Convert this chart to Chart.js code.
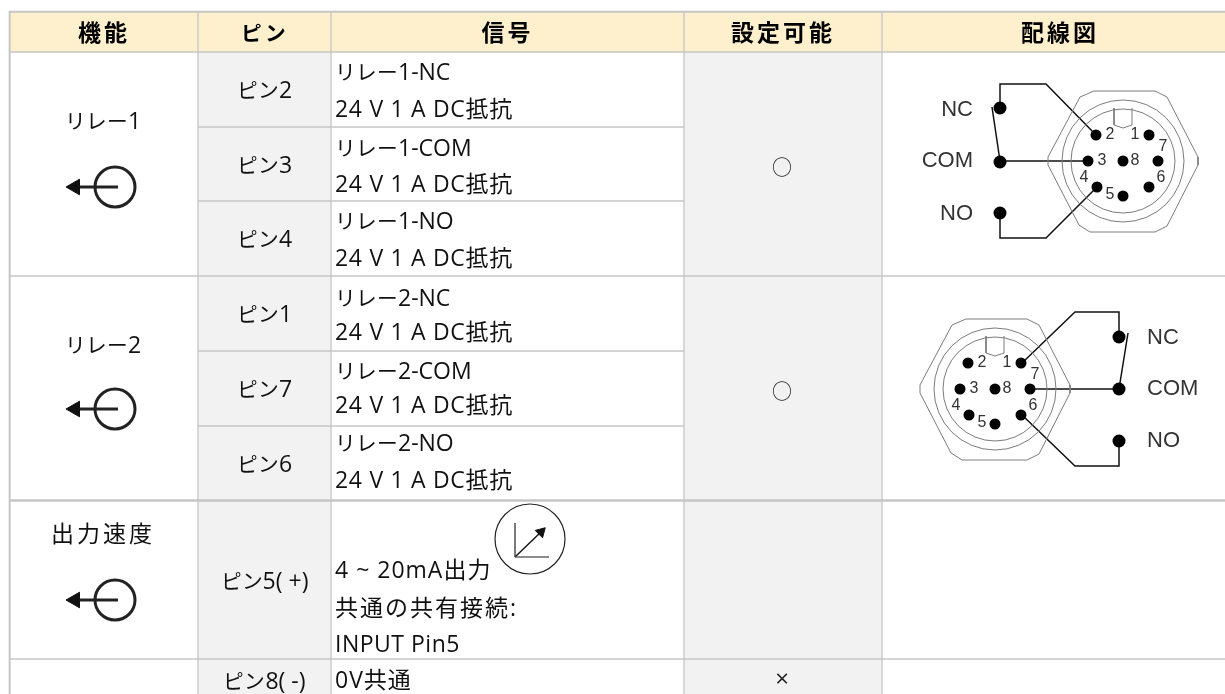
<!DOCTYPE html>
<html lang="ja">
<head>
    <meta charset="UTF-8">
    <title>ピン配置</title>
    <script src="https://cdn.jsdelivr.net/npm/chart.js"></script>
    <style>
        html, body { margin: 0; background: #fff; }
        canvas { display: block; }
        /* katakana in the original is set narrower than the kanji */
        @font-face {
            font-family: "KanaFit";
            src: local("Noto Sans CJK JP"), local("Noto Sans CJK JP Regular"), local("NotoSansCJKjp-Regular");
            font-weight: normal;
            size-adjust: 90%;
            unicode-range: U+30A0-30FF;
        }
        @font-face {
            font-family: "KanaFit";
            src: local("Noto Sans CJK JP Bold"), local("NotoSansCJKjp-Bold");
            font-weight: bold;
            size-adjust: 90%;
            unicode-range: U+30A0-30FF;
        }
    </style>
</head>
<body>
    <canvas id="myChart" width="1225" height="694"></canvas>

    <script>
        // table content
        const headers = ['機能', 'ピン', '信号', '設定可能', '配線図'];
        const functionNames = ['リレー1', 'リレー2', '出力速度'];
        const pinNames = ['ピン2', 'ピン3', 'ピン4', 'ピン1', 'ピン7', 'ピン6', 'ピン5( +)', 'ピン8( -)'];
        const signalLines = [
            'リレー1-NC', '24 V 1 A DC抵抗',
            'リレー1-COM', '24 V 1 A DC抵抗',
            'リレー1-NO', '24 V 1 A DC抵抗',
            'リレー2-NC', '24 V 1 A DC抵抗',
            'リレー2-COM', '24 V 1 A DC抵抗',
            'リレー2-NO', '24 V 1 A DC抵抗',
            '4 ~ 20mA出力', '共通の共有接続:', 'INPUT Pin5',
            '0V共通'
        ];
        const settable = ['○', '○', '', '×'];
        const terminalNames = ['NC', 'COM', 'NO'];
        const pinNumbers = ['2', '1', '7', '3', '8', '6', '4', '5'];

        // grid of the table in axis units, the last column runs past the page edge
        const columnEdges = [[11, 197], [199, 330], [332, 683], [685, 881], [883, 1237]];
        const headerSpan = [13, 51];
        const pinRows = [[53, 126], [128, 200], [202, 275], [277, 350], [352, 425], [427, 499], [502, 658], [660, 700]];
        const groupRows = [[53, 275], [277, 499], [502, 658], [660, 700]];
        const signalY = [73, 110, 149, 185, 222, 259, 299, 333, 372, 406, 444, 481, 571, 609, 645, 681];
        const signalSpacing = [0, 0.7, 0, 0.7, 0, 0.7, 0, 0.7, 0, 0.7, 0, 0.7, 1, 2, 0.5, 1];
        const functionY = [122, 346, 535];
        const iconY = [187, 409, 600];
        const settableY = [169, 393, 0, 680];

        // connector drawing, offsets from the centre of the plug
        const plugCentres = [[1123, 161], [995, 389]];
        const hexagon = [[-43, -64], [-29, -70], [32, -70], [44, -64], [75, -4], [75, 4], [44, 65], [32, 71], [-33, 71], [-44, 64], [-75, 4], [-75, -4], [-43, -64]];
        const keyNotch = [[-9, -53], [-9, -36], [0, -33], [9, -36], [9, -53]];
        const pinDots = [[-27, -26], [26, -26], [35, 0], [-35, 0], [0, 0], [26, 26], [-26, 26], [0, 35]];
        const pinNumberSpots = [[-13, -26], [12, -26], [40, -14], [-21, 0], [12, 0], [38, 17], [-39, 17], [-13, 34]];

        const wiresLeft = [
            [[1000, 108], [1000, 84], [1046, 84], [1096, 135]],
            [[992, 107], [1000, 161]],
            [[1000, 161], [1088, 161]],
            [[1000, 213], [1000, 238], [1046, 238], [1097, 187]]
        ];
        const wiresRight = [
            [[1119, 337], [1119, 312], [1075, 312], [1022, 363]],
            [[1128, 333], [1119, 389]],
            [[1030, 389], [1119, 389]],
            [[1119, 441], [1119, 466], [1075, 466], [1022, 415]]
        ];
        const terminalDots = [[1000, 108], [1000, 162], [1000, 213], [1119, 337], [1119, 389], [1119, 441]];
        const terminalLabels = [[973, 110], [973, 161], [973, 214], [1147, 338], [1147, 389], [1147, 441]];

        const gridColor = '#c6c6c6';
        const headerColor = '#fff0cd';
        const shadeColor = '#f2f2f2';
        const bodyFont = 'KanaFit, "Open Sans", "Noto Sans CJK JP", sans-serif';
        const headFont = 'KanaFit, "Noto Sans CJK JP", sans-serif';

        const toPoints = list => list.map(p => ({ x: p[0], y: p[1] }));
        const shifted = (list, c) => list.map(p => ({ x: p[0] + c[0], y: p[1] + c[1] }));

        function columnBars(col, rows, fill) {
            const edges = columnEdges[col];
            const all = [headerSpan].concat(rows);
            return {
                type: 'bar',
                order: 10,
                grouped: false,
                barThickness: edges[1] - edges[0],
                backgroundColor: all.map((r, i) => i === 0 ? headerColor : fill),
                data: all.map(r => ({ x: (edges[0] + edges[1]) / 2, y: r }))
            };
        }

        function polyline(points, color, width) {
            return {
                type: 'line', order: 2, data: points, borderColor: color, borderWidth: width,
                pointRadius: 0, fill: false, tension: 0, clip: false
            };
        }

        function dots(points, radius, color, fill, width, style, rotation) {
            return {
                type: 'scatter', order: 1, data: points, showLine: false, clip: false,
                pointRadius: radius, pointBorderColor: color, pointBackgroundColor: fill,
                pointBorderWidth: width, pointStyle: style || 'circle', pointRotation: rotation || 0
            };
        }

        const datasets = [
            // gray bar behind everything leaves the cell borders visible
            { type: 'bar', order: 11, grouped: false, barThickness: 1240, backgroundColor: gridColor, data: [{ x: 629, y: [11, 700] }] },
            columnBars(0, groupRows, '#ffffff'),
            columnBars(1, pinRows, shadeColor),
            columnBars(2, pinRows, '#ffffff'),
            columnBars(3, groupRows, shadeColor),
            columnBars(4, groupRows, '#ffffff')
        ];

        // output icons
        iconY.forEach(y => {
            datasets.push(polyline([{ x: 72, y: y }, { x: 118, y: y }], '#222', 3));
            datasets.push(dots([{ x: 115, y: y }], 20, '#222', 'rgba(0,0,0,0)', 3));
            datasets.push(dots([{ x: 75, y: y }], 9, '#111', '#111', 1, 'triangle', -90));
        });

        // analog output icon
        datasets.push(dots([{ x: 530, y: 539 }], 35, '#222', 'rgba(0,0,0,0)', 1.2));
        datasets.push(polyline([{ x: 515, y: 523 }, { x: 515, y: 557 }], '#222', 1.2));
        datasets.push(polyline([{ x: 515, y: 557 }, { x: 549, y: 557 }], '#666', 1.6));
        datasets.push(polyline([{ x: 515, y: 557 }, { x: 542, y: 531 }], '#111', 1.4));
        datasets.push(dots([{ x: 541, y: 532 }], 6, '#111', '#111', 1, 'triangle', 45));

        // plugs
        plugCentres.forEach(c => {
            datasets.push(polyline(shifted(hexagon, c), '#7c7c7c', 1));
            datasets.push(polyline(shifted(keyNotch, c), '#7c7c7c', 1));
            datasets.push(dots([{ x: c[0], y: c[1] }], 61, '#7c7c7c', 'rgba(0,0,0,0)', 1));
            datasets.push(dots([{ x: c[0], y: c[1] }], 52, '#7c7c7c', 'rgba(0,0,0,0)', 1));
            datasets.push(dots(shifted(pinDots, c), 5.5, '#000', '#000', 0));
        });
        wiresLeft.concat(wiresRight).forEach(w => datasets.push(polyline(toPoints(w), '#111', 1.5)));
        datasets.push(dots(toPoints(terminalDots), 6.5, '#000', '#000', 0));

        function textItems() {
            const items = [];
            const add = (text, x, y, font, align, spacing, color) =>
                items.push({ text, x, y, font, align, spacing: spacing || 0, color: color || '#111' });

            headers.forEach((h, i) => {
                const mid = (columnEdges[i][0] + columnEdges[i][1]) / 2;
                add(h, mid, 32, 'bold 23px ' + headFont, 'center', 3, '#000');
            });
            functionNames.forEach((n, i) => add(n, 103, functionY[i], '23px ' + bodyFont, 'center', i === 2 ? 3 : 0));
            pinNames.forEach((n, i) => {
                const mid = (columnEdges[1][0] + columnEdges[1][1]) / 2;
                add(n, mid, (pinRows[i][0] + pinRows[i][1]) / 2 + 2, '23px ' + bodyFont, 'center', 0);
            });
            signalLines.forEach((s, i) => add(s, 335, signalY[i], '23px ' + bodyFont, 'left', signalSpacing[i]));
            settable.forEach((s, i) => {
                if (s) add(s, 782, settableY[i], (i === 3 ? '24px ' : '20px ') + bodyFont, 'center', 0, '#222');
            });
            terminalLabels.forEach((p, i) => {
                const name = terminalNames[i % 3];
                add(name, p[0], p[1], '22px "Liberation Sans", sans-serif', i < 3 ? 'right' : 'left', 0, '#333');
            });
            plugCentres.forEach(c => {
                pinNumbers.forEach((n, i) => add(n, c[0] + pinNumberSpots[i][0], c[1] + pinNumberSpots[i][1],
                    '16px "Liberation Sans", sans-serif', 'center', 0, '#333'));
            });
            return items;
        }

        const tableText = {
            id: 'tableText',
            afterDatasetsDraw(chart) {
                const ctx = chart.ctx;
                ctx.save();
                ctx.textBaseline = 'middle';
                textItems().forEach(t => {
                    ctx.font = t.font;
                    ctx.textAlign = t.align;
                    ctx.letterSpacing = t.spacing + 'px';
                    ctx.fillStyle = t.color;
                    ctx.fillText(t.text, chart.scales.x.getPixelForValue(t.x), chart.scales.y.getPixelForValue(t.y));
                });
                ctx.restore();
            }
        };

        function drawChart() {
            new Chart(document.getElementById('myChart').getContext('2d'), {
                type: 'bar',
                data: { datasets: datasets },
                plugins: [tableText],
                options: {
                    responsive: false,
                    animation: false,
                    layout: { padding: 0, autoPadding: false },
                    plugins: { legend: { display: false }, tooltip: { enabled: false } },
                    scales: {
                        x: { type: 'linear', min: 0, max: 1225, display: false, offset: false },
                        y: { type: 'linear', min: 0, max: 694, reverse: true, display: false }
                    }
                }
            });
        }

        Promise.all([
            document.fonts.load('23px KanaFit', 'ピン'),
            document.fonts.load('bold 23px KanaFit', 'ピン')
        ]).then(drawChart, drawChart);
    </script>
</body>
</html>
